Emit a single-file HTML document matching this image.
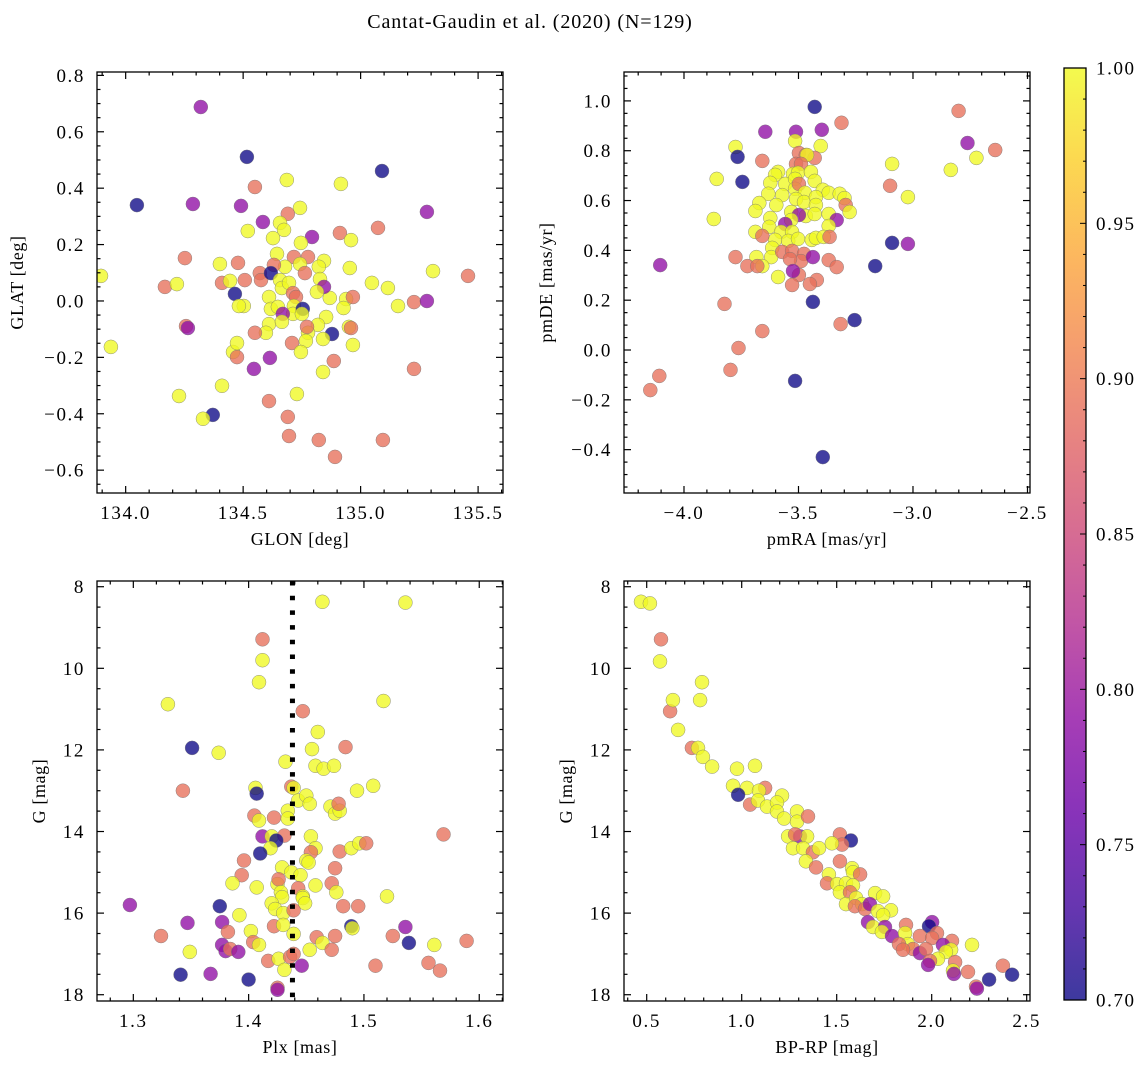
<!DOCTYPE html>
<html><head><meta charset="utf-8"><title>Cantat-Gaudin et al. (2020)</title>
<style>
html,body{margin:0;padding:0;background:#fff;}
svg{display:block;font-family:"Liberation Serif","DejaVu Serif",serif;}
</style></head>
<body>
<svg id="fig" width="1148" height="1068" viewBox="0 0 1148 1068" xmlns="http://www.w3.org/2000/svg">
<text x="530" y="28" text-anchor="middle" font-size="20" letter-spacing="0.9">Cantat-Gaudin et al. (2020) (N=129)</text>
</svg>
<script>
// ---------------- Panel 1: GLON vs GLAT ----------------
const glon = [134.048,133.895,133.937,134.320,134.516,135.091,134.286,134.491,134.550,134.686,134.916,135.282,135.074,134.742,134.584,134.690,134.520,134.252,134.167,134.218,134.401,134.410,134.444,134.478,134.503,134.507,134.465,134.482,134.954,134.912,134.959,135.048,135.116,135.159,135.308,135.227,135.282,135.457,134.257,134.265,134.227,134.410,134.371,134.329,134.457,134.474,134.474,134.546,134.610,134.614,134.690,134.695,134.822,134.891,135.095,135.227,134.729,134.840,134.886,134.878,134.950,134.959,134.938,134.869,134.840,134.657,134.674,134.627,134.793,134.746,134.644,134.716,134.776,134.844,134.822,134.742,134.678,134.631,134.571,134.576,134.618,134.763,134.657,134.665,134.695,134.827,134.844,134.814,134.712,134.725,134.610,134.618,134.648,134.716,134.712,134.754,134.669,134.750,134.927,134.967,134.853,134.818,134.776,134.767,134.772,134.610,134.597,134.665,134.550,134.708,134.746,134.967];
const glat = [0.340,0.089,-0.163,0.688,0.511,0.461,0.344,0.337,0.404,0.429,0.415,0.316,0.259,0.330,0.280,0.309,0.248,0.152,0.050,0.060,0.131,0.064,0.071,0.135,-0.018,0.074,0.025,-0.018,0.117,0.241,0.216,0.064,0.046,-0.018,0.106,-0.004,0.000,0.089,-0.089,-0.096,-0.337,-0.301,-0.404,-0.418,-0.181,-0.199,-0.149,-0.241,-0.355,-0.202,-0.411,-0.479,-0.493,-0.553,-0.493,-0.241,-0.330,-0.252,-0.213,-0.117,-0.092,-0.096,0.007,0.011,-0.135,0.277,0.252,0.223,0.227,0.206,0.167,0.156,0.156,0.142,0.121,0.131,0.121,0.128,0.099,0.074,0.099,0.099,0.074,0.046,0.064,0.078,0.050,0.032,0.028,0.014,0.014,-0.028,-0.021,-0.018,-0.046,-0.028,-0.046,-0.046,-0.025,0.014,-0.057,-0.085,-0.113,-0.142,-0.092,-0.082,-0.113,-0.074,-0.113,-0.149,-0.181,-0.156];
const prob1 = [.7,1,1,.79,.7,.7,.79,.79,.89,1,1,.79,.89,1,.79,.89,1,.89,.89,1,1,.89,1,.89,1,.89,.7,1,1,.89,1,1,1,1,1,.89,.79,.89,.89,.79,1,1,.7,1,1,.89,1,.79,.89,.79,.89,.89,.89,.89,.89,.89,1,1,.89,.7,1,.89,1,1,1,1,1,1,.79,1,1,.89,.89,1,1,1,1,.89,.89,.89,.7,.89,1,1,1,1,.79,1,.89,.89,1,1,1,1,1,.7,.79,1,1,.89,1,1,1,1,.89,1,1,1,.89,.89,1,1];
const glonTicks = [134.0,134.5,135.0,135.5];
const glatTicks = [-0.6,-0.4,-0.2,0.0,0.2,0.4,0.6,0.8];

// ---------------- Panel 2: pmRA vs pmDE ----------------
const pmra = [-4.104,-4.147,-4.108,-3.797,-3.762,-3.823,-3.870,-3.857,-3.775,-3.766,-3.745,-3.645,-3.511,-3.398,-3.429,-3.312,-3.515,-3.394,-3.437,-3.658,-3.316,-3.255,-3.165,-3.091,-3.022,-3.100,-3.091,-3.022,-2.801,-2.762,-2.723,-2.641,-2.835,-3.658,-3.515,-3.403,-3.498,-3.468,-3.429,-3.463,-3.511,-3.489,-3.589,-3.602,-3.524,-3.502,-3.446,-3.429,-3.623,-3.558,-3.515,-3.515,-3.498,-3.632,-3.571,-3.472,-3.394,-3.368,-3.320,-3.299,-3.671,-3.597,-3.511,-3.476,-3.424,-3.424,-3.294,-3.688,-3.623,-3.532,-3.468,-3.429,-3.368,-3.277,-3.498,-3.333,-3.532,-3.628,-3.368,-3.558,-3.688,-3.576,-3.528,-3.602,-3.545,-3.502,-3.442,-3.424,-3.390,-3.658,-3.364,-3.615,-3.619,-3.684,-3.658,-3.589,-3.571,-3.528,-3.476,-3.489,-3.537,-3.437,-3.775,-3.723,-3.680,-3.368,-3.333,-3.498,-3.420,-3.450,-3.528,-3.524];
const pmde = [0.341,-0.161,-0.104,-0.080,0.008,0.185,0.526,0.687,0.815,0.775,0.675,0.876,0.876,0.884,0.976,0.912,-0.124,-0.430,0.193,0.076,0.104,0.120,0.337,0.430,0.426,0.659,0.747,0.614,0.960,0.831,0.771,0.803,0.723,0.759,0.839,0.819,0.791,0.783,0.771,0.783,0.747,0.747,0.715,0.703,0.707,0.711,0.715,0.679,0.671,0.667,0.687,0.647,0.667,0.627,0.622,0.631,0.643,0.631,0.627,0.610,0.590,0.582,0.606,0.594,0.614,0.582,0.582,0.558,0.530,0.554,0.538,0.546,0.546,0.554,0.542,0.522,0.522,0.494,0.498,0.506,0.474,0.474,0.474,0.442,0.438,0.446,0.442,0.450,0.454,0.458,0.454,0.410,0.373,0.373,0.337,0.293,0.394,0.398,0.386,0.357,0.365,0.373,0.373,0.337,0.337,0.361,0.333,0.301,0.281,0.265,0.261,0.317];
const prob2 = [.79,.89,.89,.89,.89,.89,1,1,1,.7,.7,.79,.79,.79,.7,.89,.7,.7,.7,.89,.89,.7,.7,.7,.79,.89,1,1,.89,.79,1,.89,1,.89,1,1,.89,.89,.89,1,.89,.89,
 1,1,1,1,1,1,1,1,1,1, .89,
 1,1,1,1,1,1,1,1,1,1,1,1,1, .89,
 1,1,1,1,1,1,1, .79,.79, 1,1,1, .79,
 1,1,1,1,1,1,1,1,1, .89,.89,
 1,1,1,1,1, .89,.89,.89,.89,.89, .79,
 .89,.89,.89,.89,.89,.89,.89,.89,.89, .79];
const pmraTicks = [-4.0,-3.5,-3.0,-2.5];
const pmdeTicks = [-0.4,-0.2,0.0,0.2,0.4,0.6,0.8,1.0];

// ---------------- Panel 3: Plx vs G ----------------
const plx = [1.464,1.536,1.412,1.412,1.409,1.447,1.330,1.517,1.351,1.374,1.460,1.343,1.455,1.484,1.432,1.458,1.465,1.474,1.508,1.494,1.406,1.407,1.437,1.439,1.443,1.450,1.453,1.434,1.434,1.405,1.409,1.422,1.471,1.475,1.479,1.478,1.412,1.420,1.431,1.424,1.419,1.410,1.454,1.458,1.454,1.450,1.452,1.479,1.489,1.496,1.502,1.396,1.394,1.429,1.437,1.445,1.475,1.386,1.407,1.425,1.426,1.443,1.458,1.472,1.428,1.429,1.447,1.447,1.449,1.476,1.420,1.423,1.430,1.439,1.482,1.495,1.375,1.377,1.392,1.422,1.430,1.439,1.402,1.382,1.489,1.490,1.459,1.464,1.475,1.404,1.409,1.377,1.380,1.384,1.391,1.453,1.472,1.417,1.426,1.436,1.439,1.431,1.446,1.400,1.425,1.425,1.510,1.297,1.324,1.347,1.349,1.341,1.367,1.569,1.561,1.556,1.589,1.566,1.525,1.539,1.536,1.520];
const gmag3 = [8.37,8.39,9.29,9.80,10.34,11.05,10.88,10.80,11.95,12.07,11.56,13.00,11.98,11.93,12.29,12.39,12.46,12.39,12.88,13.00,12.93,13.07,12.90,12.93,13.24,13.12,13.32,13.49,13.68,13.61,13.73,13.66,13.39,13.56,13.49,13.32,14.12,14.12,14.10,14.22,14.41,14.54,14.12,14.41,14.51,14.71,14.76,14.49,14.41,14.29,14.29,14.71,15.07,14.88,15.00,15.07,14.90,15.27,15.37,15.29,15.17,15.39,15.32,15.27,15.49,15.61,15.59,15.63,15.76,15.49,15.76,15.90,16.00,15.93,15.83,15.83,15.83,16.22,16.05,16.32,16.29,16.51,16.44,16.46,16.32,16.37,16.59,16.73,16.56,16.71,16.78,16.78,16.93,16.88,16.95,16.90,16.90,17.17,17.12,17.07,17.00,17.39,17.29,17.63,17.83,17.88,17.29,15.80,16.56,16.24,16.95,17.51,17.49,14.07,16.78,17.22,16.68,17.41,16.56,16.73,16.34,15.59];
const prob3 = [1,1,.89,1,1,.89,1,1,.7,1,1,.89,1,.89,1,1,1,1,1,1,1,.7,.89,1,1,1,1,1,1,.89,1,.89,1,1,1,.89,.79,1,.89,.7,1,.7,1,1,.89,1,1,.89,1,1,.89,.89,.89,1,1,1,.89,1,1,1,.89,.89,1,.89,1,1,1,1,1,1,1,1,1,.89,.89,.89,.7,.79,1,.89,1,1,1,.89,.7,1,.89,1,.89,.89,1,.79,.79,.89,.79,1,.89,.89,1,.89,.89,1,.79,.7,.89,.79,.89,.79,.89,.79,1,.7,.79,.89,1,.89,.89,.89,.89,.7,.79,1];
const plxTicks = [1.3,1.4,1.5,1.6];
const gTicks = [8,10,12,14,16,18];
const plxRef = [1.438];

// ---------------- Panel 4: BP-RP vs G ----------------
const bprp = [0.470,0.517,0.575,0.570,0.623,0.638,0.665,0.791,0.781,0.738,0.770,0.796,0.844,0.975,1.070,0.954,1.028,1.123,0.981,1.091,1.044,1.086,1.133,1.212,1.186,1.186,1.223,1.291,1.291,1.349,1.244,1.307,1.344,1.281,1.270,1.323,1.375,1.407,1.338,1.391,1.517,1.575,1.528,1.475,1.517,1.581,1.586,1.459,1.623,1.449,1.502,1.549,1.586,1.517,1.570,1.702,1.744,1.549,1.602,1.633,1.596,1.649,1.675,1.717,1.786,1.744,1.665,1.691,1.754,1.738,1.791,1.865,1.860,2.002,1.986,2.028,1.938,2.002,1.875,1.828,1.902,1.849,1.938,1.970,2.107,2.059,2.102,2.075,2.033,1.991,1.981,2.123,2.112,2.117,2.191,2.212,2.375,2.302,2.423,2.233,2.238];
const gmag4 = [8.37,8.41,9.29,9.83,11.05,10.78,11.51,10.34,10.78,11.95,11.95,12.17,12.41,12.46,12.39,12.88,12.93,12.93,13.10,13.00,13.34,13.24,13.39,13.12,13.29,13.51,13.68,13.51,13.76,13.63,14.12,14.12,14.12,14.07,14.41,14.41,14.51,14.41,14.73,14.88,14.07,14.22,14.32,14.29,14.73,14.90,15.00,15.05,15.05,15.27,15.29,15.27,15.32,15.49,15.49,15.51,15.59,15.78,15.63,15.78,15.83,15.90,15.78,15.95,15.93,16.05,16.22,16.34,16.34,16.46,16.56,16.29,16.49,16.22,16.32,16.49,16.56,16.61,16.76,16.76,16.88,16.90,16.98,16.88,16.68,16.78,16.90,16.95,17.12,17.17,17.27,17.20,17.41,17.49,17.44,16.78,17.29,17.63,17.51,17.80,17.85];
const prob4 = [1,1,.89,1,.89,1,1,1,1,.89,1,1,1,1,1,1,1,.89,.7,1,.89,1,1,1,1,1,1,1,1,.89,1,.79,1,.89,1,1,.89,1,1,.89,.89,.7,.89,1,.89,1,1,1,.89,.89,1,1,1,1,.89,1,1,1,1,1,.89,.89,.79,1,1,1,.79,1,.79,1,.79,.89,1,.79,.7,.89,.89,.89,1,.89,.89,.89,.79,.89,.89,.79,1,1,1,.89,.79,.89,1,.79,.89,1,.89,.7,.7,.89,.79];
const bprpTicks = [0.5,1.0,1.5,2.0,2.5];

// ---------------- Colorbar ----------------
const cbarTicks = [0.70,0.75,0.80,0.85,0.90,0.95,1.00];
const vmin = 0.70, vmax = 1.00;

const NS = "http://www.w3.org/2000/svg";
const svg = document.getElementById('fig');
const TICK_FS = 19, TICK_LS = 1.6, LABEL_FS = 18, LABEL_LS = 0.6;
function mk(tag, attrs, parent){
  const e = document.createElementNS(NS, tag);
  for (const k in attrs) e.setAttribute(k, attrs[k]);
  (parent||svg).appendChild(e);
  return e;
}
const plasmaStops = ["#0d0887","#41049d","#6a00a8","#8f0da4","#b12a90","#cc4778","#e16462","#f2844b","#fca636","#fcce25","#f0f921"];
function hex2rgb(h){return [parseInt(h.slice(1,3),16),parseInt(h.slice(3,5),16),parseInt(h.slice(5,7),16)];}
function plasma(t){
  t = Math.max(0, Math.min(1, t));
  const f = t*10, i = Math.min(9, Math.floor(f)), r = f - i;
  const a = hex2rgb(plasmaStops[i]), b = hex2rgb(plasmaStops[i+1]);
  return "rgb(" + a.map((v,k)=>Math.round(v+(b[k]-v)*r)).join(",") + ")";
}
function fmt(v, d){ const s = v.toFixed(d); return s.replace('-', '\u2212'); }
function linear(d0, d1, r0, r1){ return v => r0 + (v - d0) * (r1 - r0) / (d1 - d0); }

function panel(cfg){
  const g = mk('g', {});
  
  
  const {x0,y0,x1,y1} = cfg.box;
  const sx = linear(cfg.xd[0], cfg.xd[1], x0, x1);
  const sy = linear(cfg.yd[0], cfg.yd[1], y1, y0);
  const cid = cfg.name + '-clip';
  const cp = mk('clipPath', {id: cid}, g);
  mk('rect', {x:x0, y:y0, width:x1-x0, height:y1-y0}, cp);
  const pts = mk('g', {'clip-path': 'url(#' + cid + ')'}, g);
  
  
  const n = Math.min(cfg.xs.length, cfg.ys.length);
  for (let i = 0; i < n; i++){
    const p = cfg.ps[i] !== undefined ? cfg.ps[i] : 1;
    const c = mk('circle', {cx: sx(cfg.xs[i]).toFixed(1), cy: sy(cfg.ys[i]).toFixed(1), r: 7,
      fill: plasma((p - vmin)/(vmax - vmin)), 'fill-opacity': 0.78, stroke: '#777', 'stroke-width': 0.5, 'stroke-opacity': 0.8}, pts);
    
    
  }
  if (cfg.vline){
    for (const v of cfg.vline){
      const l = mk('line', {x1: sx(v), x2: sx(v), y1: y0, y2: y1, stroke: '#000', 'stroke-width': 5, 'stroke-dasharray': '4.5,10.2'}, g);
      
      
    }
  }
  const fr = mk('rect', {x:x0, y:y0, width:x1-x0, height:y1-y0, fill:'none', stroke:'#000', 'stroke-width':1.3}, g);
  
  
  const xa = mk('g', {}, g);
  
  
  const eps = 1e-9;
  for (let k = Math.ceil((cfg.xd[0]-eps)/cfg.xminor); k*cfg.xminor <= cfg.xd[1]+eps; k++){
    const v = k*cfg.xminor, X = sx(v);
    const isMaj = Math.abs(v/cfg.xmajor - Math.round(v/cfg.xmajor)) < 1e-6;
    const L = isMaj ? 7 : 3.5;
    mk('line', {x1:X, x2:X, y1:y1, y2:y1-L, stroke:'#000', 'stroke-width':1.2}, xa);
    mk('line', {x1:X, x2:X, y1:y0, y2:y0+L, stroke:'#000', 'stroke-width':1.2}, xa);
  }
  for (const v of cfg.xticks){
    const t = mk('text', {x: sx(v), y: y1 + 26, 'text-anchor':'middle', 'font-size': TICK_FS, 'letter-spacing': TICK_LS}, xa);
    t.textContent = fmt(v, cfg.xdec);
    
    
  }
  const ya = mk('g', {}, g);
  
  
  const ylo = Math.min(cfg.yd[0], cfg.yd[1]), yhi = Math.max(cfg.yd[0], cfg.yd[1]);
  for (let k = Math.ceil((ylo-eps)/cfg.yminor); k*cfg.yminor <= yhi+eps; k++){
    const v = k*cfg.yminor, Y = sy(v);
    const isMaj = Math.abs(v/cfg.ymajor - Math.round(v/cfg.ymajor)) < 1e-6;
    const L = isMaj ? 7 : 3.5;
    mk('line', {x1:x0, x2:x0+L, y1:Y, y2:Y, stroke:'#000', 'stroke-width':1.2}, ya);
    mk('line', {x1:x1, x2:x1-L, y1:Y, y2:Y, stroke:'#000', 'stroke-width':1.2}, ya);
  }
  for (const v of cfg.yticks){
    const t = mk('text', {x: x0 - 12, y: sy(v) + 6.5, 'text-anchor':'end', 'font-size': TICK_FS, 'letter-spacing': TICK_LS}, ya);
    t.textContent = fmt(v, cfg.ydec);
    
    
  }
  const xt = mk('text', {x:(x0+x1)/2, y: y1 + 52, 'text-anchor':'middle', 'font-size': LABEL_FS, 'letter-spacing': LABEL_LS}, g);
  xt.textContent = cfg.xlabel;
  
  
  const yt = mk('text', {x: cfg.ylabelX, y:(y0+y1)/2, 'text-anchor':'middle', 'font-size': LABEL_FS, 'letter-spacing': LABEL_LS,
    transform: 'rotate(-90 ' + cfg.ylabelX + ' ' + ((y0+y1)/2) + ')'}, g);
  yt.textContent = cfg.ylabel;
  
  
}

panel({name:'panel-glon-glat', box:{x0:97,y0:72,x1:503,y1:493}, xd:[133.878,135.606], yd:[-0.681,0.812],
  xs:glon, ys:glat, ps:prob1, xticks:glonTicks, yticks:glatTicks, xdec:1, ydec:1,
  xmajor:0.5, xminor:0.1, ymajor:0.2, yminor:0.05, xlabel:'GLON [deg]', ylabel:'GLAT [deg]', ylabelX:23});
panel({name:'panel-pm', box:{x0:624,y0:72,x1:1030,y1:493}, xd:[-4.262,-2.489], yd:[-0.574,1.116],
  xs:pmra, ys:pmde, ps:prob2, xticks:pmraTicks, yticks:pmdeTicks, xdec:1, ydec:1,
  xmajor:0.5, xminor:0.1, ymajor:0.2, yminor:0.05, xlabel:'pmRA [mas/yr]', ylabel:'pmDE [mas/yr]', ylabelX:552});
panel({name:'panel-plx-g', box:{x0:97,y0:581,x1:503,y1:1001}, xd:[1.2685,1.6206], yd:[18.154,7.860],
  xs:plx, ys:gmag3, ps:prob3, xticks:plxTicks, yticks:gTicks, xdec:1, ydec:0, vline:plxRef,
  xmajor:0.1, xminor:0.02, ymajor:2, yminor:0.5, xlabel:'Plx [mas]', ylabel:'G [mag]', ylabelX:45});
panel({name:'panel-cmd', box:{x0:624,y0:581,x1:1030,y1:1001}, xd:[0.3805,2.5174], yd:[18.154,7.860],
  xs:bprp, ys:gmag4, ps:prob4, xticks:bprpTicks, yticks:gTicks, xdec:1, ydec:0,
  xmajor:0.5, xminor:0.1, ymajor:2, yminor:0.5, xlabel:'BP-RP [mag]', ylabel:'G [mag]', ylabelX:572});

(function(){
  const cb = mk('g', {});
  
  
  const defs = mk('defs', {}, cb);
  const lg = mk('linearGradient', {id:'plasmaGrad', x1:0, y1:1, x2:0, y2:0}, defs);
  for (let i = 0; i < plasmaStops.length; i++){
    mk('stop', {offset: (i/10), 'stop-color': plasmaStops[i], 'stop-opacity': 0.8}, lg);
  }
  const cx0 = 1064, cx1 = 1086, cy0 = 68, cy1 = 1000;
  const sc = linear(vmin, vmax, cy1, cy0);
  mk('rect', {x:cx0, y:cy0, width:cx1-cx0, height:cy1-cy0, fill:'url(#plasmaGrad)'}, cb);
  mk('rect', {x:cx0, y:cy0, width:cx1-cx0, height:cy1-cy0, fill:'none', stroke:'#000', 'stroke-width':1.3}, cb);
  for (let k = 70; k <= 100; k++){
    const v = k/100, Y = sc(v);
    const maj = k % 5 === 0;
    mk('line', {x1:cx1, x2:cx1-(maj?6:3), y1:Y, y2:Y, stroke:'#000', 'stroke-width':1}, cb);
  }
  for (const v of cbarTicks){
    const t = mk('text', {x: cx1 + 10, y: sc(v) + 6.5, 'font-size': TICK_FS, 'letter-spacing': TICK_LS}, cb);
    t.textContent = v.toFixed(2);
    
    
  }
})();
</script>
</body></html>
